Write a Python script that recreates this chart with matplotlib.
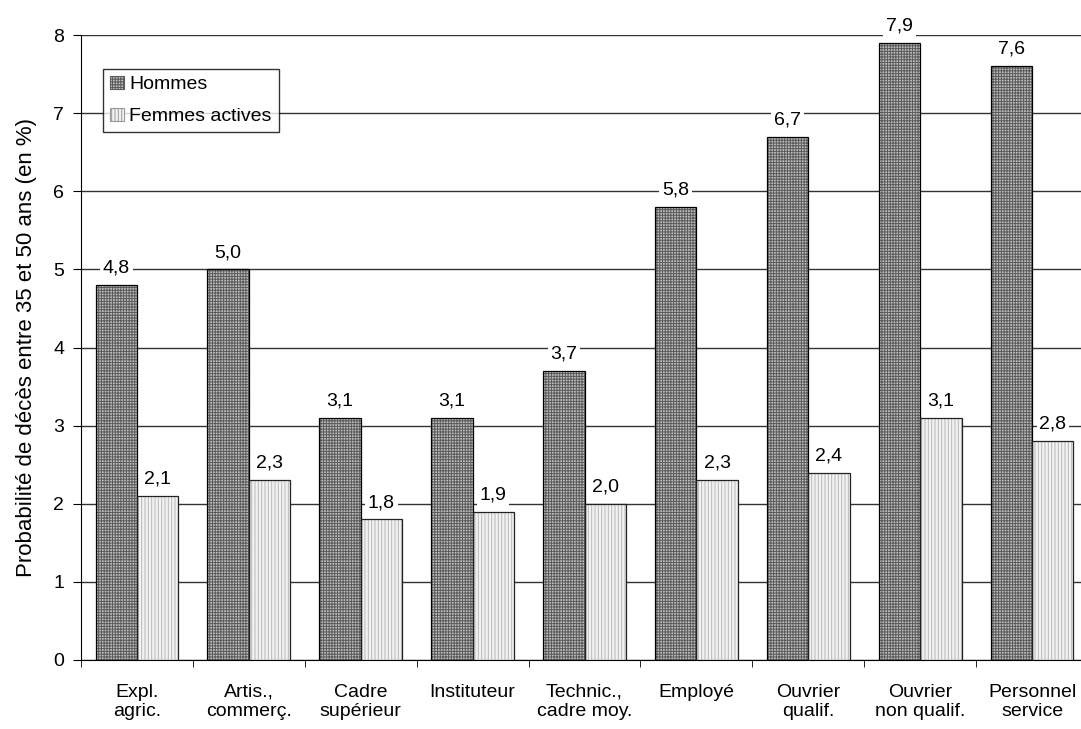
import numpy as np
import matplotlib.pyplot as plt

plt.rcParams['font.family'] = ['Liberation Sans', 'DejaVu Sans']
plt.rcParams['hatch.linewidth'] = 0.7

categories = ["Expl.\nagric.", "Artis.,\ncommerç.", "Cadre\nsupérieur", "Instituteur",
              "Technic.,\ncadre moy.", "Employé", "Ouvrier\nqualif.", "Ouvrier\nnon qualif.",
              "Personnel\nservice"]
hommes = [4.8, 5.0, 3.1, 3.1, 3.7, 5.8, 6.7, 7.9, 7.6]
femmes = [2.1, 2.3, 1.8, 1.9, 2.0, 2.3, 2.4, 3.1, 2.8]


def fmt(v):
    return f"{v:.1f}".replace(".", ",")


fig = plt.figure(figsize=(10.81, 7.29), dpi=100)
ax = fig.add_axes([81 / 1081, 69 / 729, 1007 / 1081, 625 / 729])

x = np.arange(len(categories))
w = 0.37
# hatched fill, then a plain black outline on top
ax.bar(x - w / 2, hommes, w, facecolor="#bcbcbc", edgecolor="#5a5a5a",
       linewidth=0, hatch="++++++", zorder=3)
ax.bar(x + w / 2, femmes, w, facecolor="#f2f2f2", edgecolor="#b8b8b8",
       linewidth=0, hatch="|||||", zorder=3)
b1 = ax.bar(x - w / 2, hommes, w, facecolor="none", edgecolor="black", linewidth=0.9, zorder=3)
b2 = ax.bar(x + w / 2, femmes, w, facecolor="none", edgecolor="#222222", linewidth=0.9, zorder=3)

for bars, vals in ((b1, hommes), (b2, femmes)):
    for p, v in zip(bars, vals):
        ax.annotate(fmt(v), (p.get_x() + p.get_width() / 2, v), xytext=(0, 6),
                    textcoords="offset points", ha="center", va="bottom", fontsize=14,
                    bbox=dict(facecolor="white", edgecolor="none", pad=2), zorder=4)

ax.set_xlim(-0.5, len(categories) - 0.5)
ax.set_ylim(0, 8)
ax.set_yticks(range(0, 9))
ax.yaxis.grid(True, color="#333333", linewidth=1.0, zorder=0)
ax.set_axisbelow(True)
ax.set_xticks(x)
ax.set_xticklabels(categories, fontsize=14, linespacing=1.15)
ax.set_xticks(np.arange(-0.5, len(categories)), minor=True)
ax.tick_params(axis="x", which="major", length=0, pad=17)
ax.tick_params(axis="x", which="minor", length=5, direction="out", color="black")
ax.tick_params(axis="y", length=6, direction="out", labelsize=14, pad=6)
for s in ("top", "right"):
    ax.spines[s].set_visible(False)

ax.set_ylabel("Probabilité de décès entre 35 et 50 ans (en %)", fontsize=16, labelpad=12)

h1 = plt.Rectangle((0, 0), 1, 1, facecolor="#bcbcbc", edgecolor="#5a5a5a", hatch="++++++", linewidth=0.8)
h2 = plt.Rectangle((0, 0), 1, 1, facecolor="#f2f2f2", edgecolor="#999999", hatch="|||||", linewidth=0.8)
leg = ax.legend([h1, h2], ["Hommes", "Femmes actives"], loc="upper left",
                bbox_to_anchor=(0.022, 0.946), fontsize=14, frameon=True, fancybox=False,
                handlelength=0.7, handleheight=0.7, handletextpad=0.3, borderpad=0.35,
                labelspacing=0.75, borderaxespad=0)
leg.get_frame().set_edgecolor("black")
leg.get_frame().set_linewidth(1.0)

fig.savefig("out.png", dpi=100)
